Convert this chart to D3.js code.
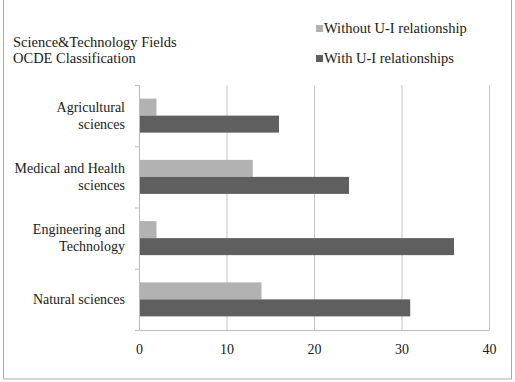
<!DOCTYPE html>
<meta charset="utf-8">
<script src="https://d3js.org/d3.v7.min.js"></script>
<style>
  body { margin: 0; background: #fff; }
  text { font-family: "Liberation Serif", "Times New Roman", serif; fill: #1a1a1a; }
</style>
<div id="my_dataviz"></div>
<script>

// data
var categories = ["Agricultural sciences", "Medical and Health sciences", "Engineering and Technology", "Natural sciences"];
var catLines = [["Agricultural", "sciences"], ["Medical and Health", "sciences"], ["Engineering and", "Technology"], ["Natural sciences"]];
var seriesNames = ["Without U-I relationship", "With U-I relationships"];
var withoutUI = [2, 13, 2, 14];
var withUI = [16, 24, 36, 31];
var xTicks = [0, 10, 20, 30, 40];
var colors = ["#b2b2b2", "#5f5f5f"];

var W = 515, H = 382;
var margin = {top: 85, right: 26, bottom: 52, left: 139},
    width = 489 - margin.left,
    height = 330 - margin.top;

var root = d3.select("#my_dataviz")
  .append("svg")
    .attr("width", W)
    .attr("height", H);

// outer frame
root.append("rect")
  .attr("x", 3.5).attr("y", -2)
  .attr("width", 508).attr("height", 381)
  .attr("fill", "none")
  .attr("stroke", "#aaa")
  .attr("stroke-width", 1);

var svg = root.append("g")
  .attr("transform", "translate(" + margin.left + "," + margin.top + ")");

var x = d3.scaleLinear().domain([0, 40]).range([0, width]);
var y = d3.scaleBand().domain(categories).range([0, height]);
var yInner = d3.scaleBand().domain(seriesNames).range([0, 34]);

// gridlines
svg.selectAll("grid")
  .data(xTicks.slice(1))
  .enter()
  .append("line")
    .attr("x1", function(d){ return x(d) + 0.5 })
    .attr("x2", function(d){ return x(d) + 0.5 })
    .attr("y1", 0)
    .attr("y2", height)
    .attr("stroke", "#c4c4c4");

// x axis
var xAxis = svg.append("g")
  .attr("transform", "translate(0," + height + ")")
  .call(d3.axisBottom(x).tickValues(xTicks).tickSize(0).tickPadding(14));
xAxis.select(".domain").attr("stroke", "#bbb");
xAxis.selectAll("text")
  .style("font-family", "Liberation Serif, serif")
  .style("font-size", "14px")
  .attr("fill", "#1a1a1a");

// y axis (ticks at category boundaries)
svg.append("line")
  .attr("x1", 0.5).attr("x2", 0.5)
  .attr("y1", 0).attr("y2", height)
  .attr("stroke", "#bbb");
svg.selectAll("ytick")
  .data(d3.range(categories.length + 1))
  .enter()
  .append("line")
    .attr("x1", -4).attr("x2", 0)
    .attr("y1", function(i){ return i * y.step() + 0.5 })
    .attr("y2", function(i){ return i * y.step() + 0.5 })
    .attr("stroke", "#bbb");

// category labels
var lab = svg.selectAll("catlab")
  .data(categories)
  .enter()
  .append("text")
    .attr("text-anchor", "end")
    .style("font-size", "14px")
    .attr("transform", function(d){ return "translate(-14," + (y(d) + y.bandwidth() / 2) + ")" });
lab.each(function(d, i) {
  var lines = catLines[i];
  var t = d3.select(this);
  lines.forEach(function(l, j) {
    t.append("tspan")
      .attr("x", 0)
      .attr("y", (j - (lines.length - 1) / 2) * 17 + 4.5)
      .text(l);
  });
});

// bars
var rows = categories.map(function(c, i){ return {cat: c, vals: [withoutUI[i], withUI[i]]} });
var grp = svg.selectAll("grp")
  .data(rows)
  .enter()
  .append("g")
    .attr("transform", function(d){ return "translate(0," + (y(d.cat) + (y.bandwidth() - 34) / 2) + ")" });
grp.selectAll("rect")
  .data(function(d){ return d.vals.map(function(v, k){ return {s: seriesNames[k], v: v, k: k} }) })
  .enter()
  .append("rect")
    .attr("x", x(0) + 1)
    .attr("y", function(d){ return yInner(d.s) })
    .attr("width", function(d){ return x(d.v) - x(0) - 1 })
    .attr("height", yInner.bandwidth())
    .attr("fill", function(d){ return colors[d.k] });

// title
root.append("text")
  .attr("x", 13).attr("y", 47)
  .style("font-size", "14.5px")
  .text("Science&Technology Fields");
root.append("text")
  .attr("x", 13).attr("y", 63)
  .style("font-size", "14.5px")
  .text("OCDE Classification");

// legend
root.selectAll("legsq")
  .data(seriesNames)
  .enter()
  .append("rect")
    .attr("x", 316)
    .attr("y", function(d, i){ return 25 + i * 30 })
    .attr("width", 7).attr("height", 7)
    .attr("fill", function(d, i){ return colors[i] });
root.selectAll("leglab")
  .data(seriesNames)
  .enter()
  .append("text")
    .attr("x", 324)
    .attr("y", function(d, i){ return 33 + i * 30 })
    .style("font-size", "14.5px")
    .text(function(d){ return d });

</script>
